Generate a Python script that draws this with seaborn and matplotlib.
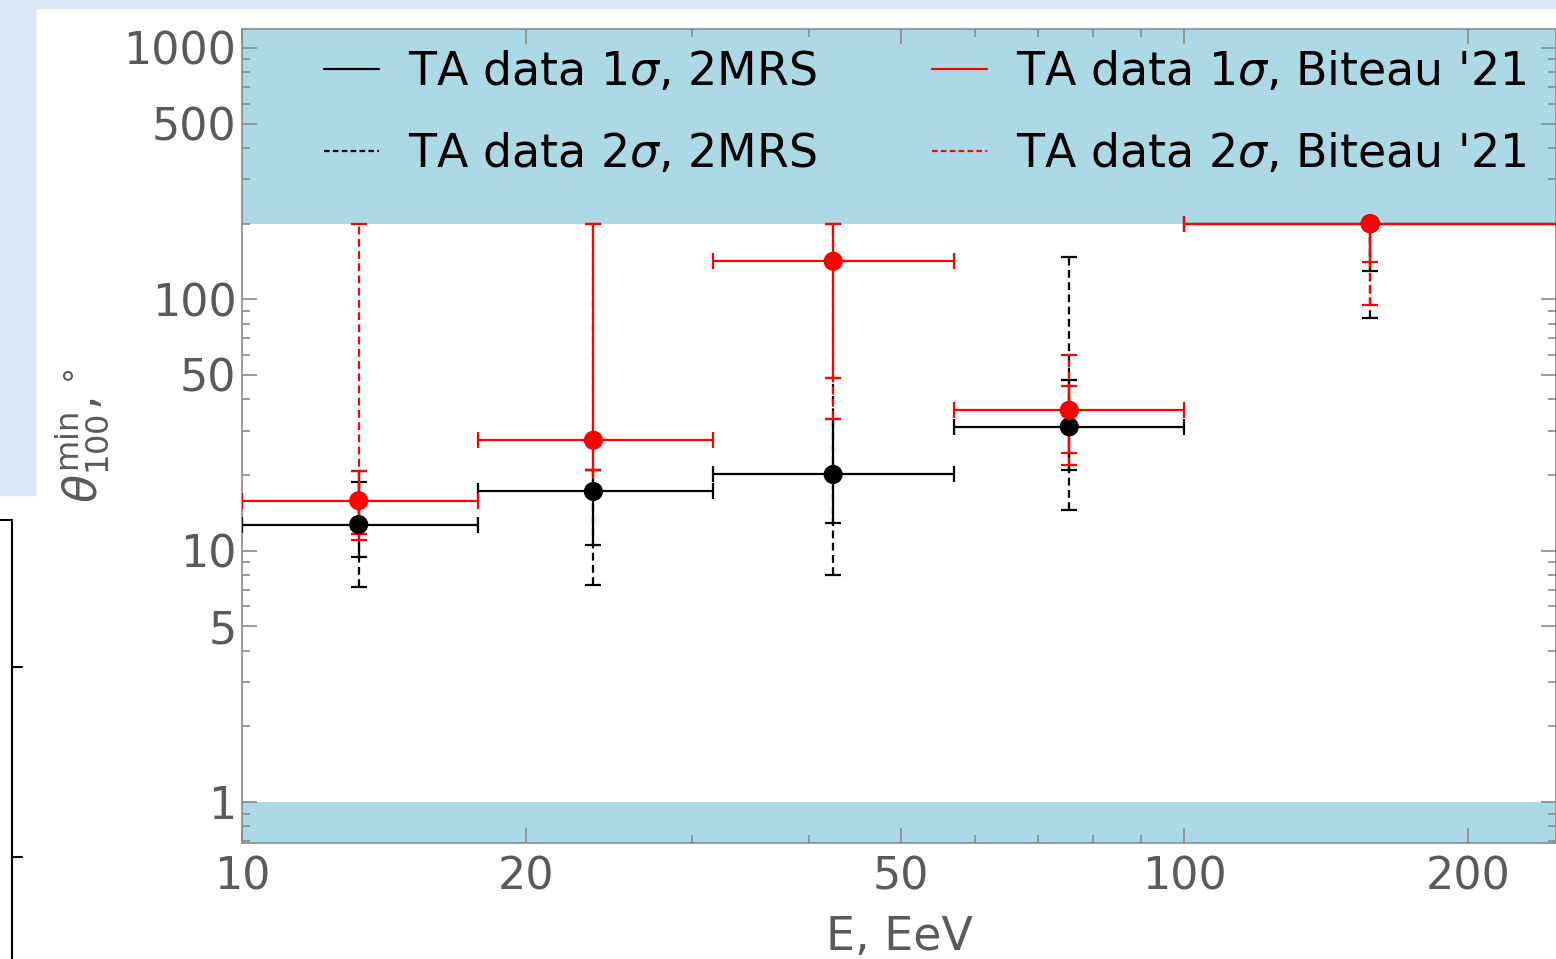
import numpy as np
import matplotlib
matplotlib.use("Agg")
import matplotlib.pyplot as plt
import seaborn as sns
from matplotlib.lines import Line2D
from matplotlib.patches import Rectangle
from matplotlib.ticker import FixedLocator, FixedFormatter, NullFormatter

# ---------------- data ----------------
E_center = [13.3, 23.6, 42.4, 75.5, 157.5]
E_low = [10.0, 17.8, 31.6, 57.0, 100.0]
E_high = [17.8, 31.6, 57.0, 100.0, 250.0]

mrs_theta = [12.7, 17.2, 20.1, 31.1, 200.0]
mrs_1s_low = [9.4, 10.5, 12.9, 21.0, 130.0]
mrs_1s_high = [18.8, 21.0, 33.3, 47.7, 200.0]
mrs_2s_low = [7.2, 7.3, 8.0, 14.5, 84.0]
mrs_2s_high = [20.7, 21.0, 48.8, 147.0, 200.0]

bit_theta = [15.8, 27.5, 141.7, 36.2, 200.0]
bit_1s_low = [11.7, 21.0, 48.8, 24.4, 141.0]
bit_1s_high = [20.7, 200.0, 200.0, 45.2, 200.0]
bit_2s_low = [11.0, 17.2, 33.3, 22.0, 94.6]
bit_2s_high = [200.0, 200.0, 200.0, 59.8, 200.0]

band_low_edge = 1.0
band_high_edge = 200.0

x_ticks = [10, 20, 50, 100, 200]
y_ticks = [1, 5, 10, 50, 100, 500, 1000]

legend_labels = [r"TA data 1$\sigma$, 2MRS", r"TA data 2$\sigma$, 2MRS",
                 r"TA data 1$\sigma$, Biteau '21", r"TA data 2$\sigma$, Biteau '21"]

# ---------------- style ----------------
sns.set_theme(style="ticks")
plt.rcParams["font.family"] = ["DejaVu Sans"]
plt.rcParams["mathtext.fontset"] = "dejavusans"

GRAY = "#5a5a5a"
SPINE = "#8a8a8a"
BAND = "#add8e6"

fig = plt.figure(figsize=(15.56, 9.59), dpi=100)
fig.patch.set_facecolor("white")

# slide background remnants
fig.patches.append(Rectangle((0, 1 - 495 / 959), 35 / 1556, 495 / 959,
                             transform=fig.transFigure, color="#dbe5f7", zorder=-5))
fig.patches.append(Rectangle((0, 1 - 8 / 959), 1, 8 / 959,
                             transform=fig.transFigure, color="#dbe5f7", zorder=-5))
fig.lines.append(Line2D([12 / 1556, 12 / 1556], [0, 1 - 520 / 959],
                        transform=fig.transFigure, color="black", lw=1.5))
for yy, x0, x1 in [(520, 0, 12), (667, 12, 22), (857, 12, 22)]:
    fig.lines.append(Line2D([x0 / 1556, x1 / 1556], [1 - yy / 959, 1 - yy / 959],
                            transform=fig.transFigure, color="black", lw=1.5))

ax = fig.add_axes([242 / 1556, 1 - 843 / 959, 1 - 242 / 1556, (843 - 29) / 959])
ax.set_xscale("log")
ax.set_yscale("log")
ax.set_xlim(10, 248)
ax.set_ylim(0.687, 1190)

ax.axhspan(0.687, band_low_edge, color=BAND, zorder=0, lw=0)
ax.axhspan(band_high_edge, 1190, color=BAND, zorder=0, lw=0)

LW = 1.6
CAP = 5.5


def draw_series(x, y, lo1, hi1, lo2, hi2, xl, xh, color, z):
    x = np.asarray(x)
    y = np.asarray(y)
    eb2 = ax.errorbar(x, y, yerr=[y - np.asarray(lo2), np.asarray(hi2) - y],
                      fmt="none", ecolor=color, elinewidth=LW, capsize=CAP,
                      capthick=LW, zorder=z)
    eb2[2][0].set_linestyle((0, (3.5, 2.0)))
    ax.errorbar(x, y, yerr=[y - np.asarray(lo1), np.asarray(hi1) - y],
                xerr=[x - np.asarray(xl), np.asarray(xh) - x],
                fmt="none", ecolor=color, elinewidth=LW, capsize=CAP,
                capthick=LW, zorder=z + 0.1)


draw_series(E_center, mrs_theta, mrs_1s_low, mrs_1s_high, mrs_2s_low, mrs_2s_high,
            E_low, E_high, "black", 3)
draw_series(E_center, bit_theta, bit_1s_low, bit_1s_high, bit_2s_low, bit_2s_high,
            E_low, E_high, "red", 4)

sns.scatterplot(x=E_center, y=mrs_theta, color="black", s=190, edgecolor="none",
                ax=ax, zorder=5, legend=False)
sns.scatterplot(x=E_center, y=bit_theta, color="red", s=190, edgecolor="none",
                ax=ax, zorder=6, legend=False)

# ticks
ax.xaxis.set_major_locator(FixedLocator(x_ticks))
ax.xaxis.set_major_formatter(FixedFormatter([str(t) for t in x_ticks]))
ax.xaxis.set_minor_locator(FixedLocator(
    [v * 10 ** d for d in (1, 2) for v in range(1, 10)
     if v * 10 ** d not in x_ticks and 10 <= v * 10 ** d <= 248]))
ax.xaxis.set_minor_formatter(NullFormatter())
ax.yaxis.set_major_locator(FixedLocator(y_ticks))
ax.yaxis.set_major_formatter(FixedFormatter([str(t) for t in y_ticks]))
ax.yaxis.set_minor_locator(FixedLocator(
    [v * 10 ** d for d in (-1, 0, 1, 2, 3) for v in range(1, 10)
     if v * 10 ** d not in y_ticks and 0.69 <= v * 10 ** d <= 1190]))
ax.yaxis.set_minor_formatter(NullFormatter())

ax.tick_params(which="both", direction="in", top=True, right=True,
               colors=SPINE, labelcolor=GRAY, labelsize=32, width=1.2)
ax.tick_params(which="major", length=11)
ax.tick_params(axis="y", which="major", pad=4)
ax.tick_params(axis="x", which="major", pad=9)
ax.tick_params(which="minor", length=6)
for s in ax.spines.values():
    s.set_color(SPINE)
    s.set_linewidth(1.2)

ax.set_xlabel("E, EeV", fontsize=33, color=GRAY, labelpad=12)
ax.set_ylabel(r"$\theta_{100}^{\rm min}, ^{\circ}$", fontsize=33, color=GRAY, labelpad=8)

handles = [Line2D([], [], color="black", lw=LW),
           Line2D([], [], color="black", lw=LW, ls=(0, (2.5, 1.5))),
           Line2D([], [], color="red", lw=LW),
           Line2D([], [], color="red", lw=LW, ls=(0, (2.5, 1.5)))]
leg = ax.legend(handles, legend_labels, ncol=2, loc="upper left",
                bbox_to_anchor=(0.031, 1.025), frameon=False, fontsize=33,
                handlelength=1.2, handletextpad=0.63, columnspacing=2.53,
                labelspacing=0.8, labelcolor="black")

fig.savefig("out.png", dpi=100)
